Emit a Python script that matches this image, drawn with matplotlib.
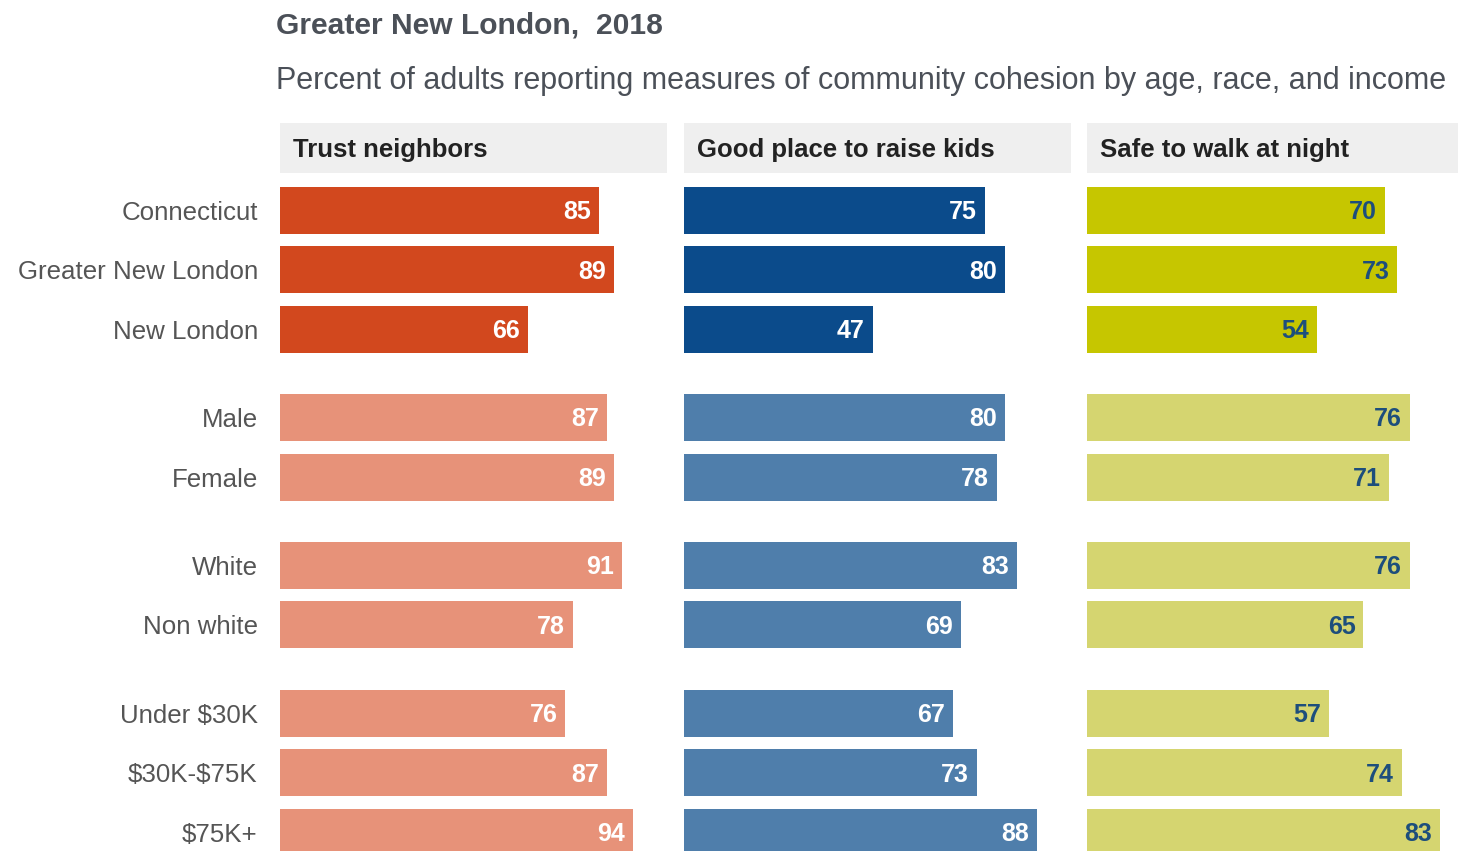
import numpy as np
import matplotlib.pyplot as plt
from matplotlib.patches import Rectangle

plt.rcParams['font.family'] = ['Liberation Sans', 'DejaVu Sans']
plt.rcParams['text.parse_math'] = False

# survey results, percent of adults
categories = ["Connecticut", "Greater New London", "New London",
              "Male", "Female",
              "White", "Non white",
              "Under $30K", "$30K-$75K", "$75K+"]
groups = [0, 0, 0, 1, 1, 2, 2, 3, 3, 3]
measures = ["Trust neighbors", "Good place to raise kids", "Safe to walk at night"]
trust = [85, 89, 66, 87, 89, 91, 78, 76, 87, 94]
kids = [75, 80, 47, 80, 78, 83, 69, 67, 73, 88]
safe = [70, 73, 54, 76, 71, 76, 65, 57, 74, 83]

series = [trust, kids, safe]
dark = ["#d2481e", "#0b4b8b", "#c6c600"]
light = ["#e79279", "#4f7eab", "#d5d570"]
label_col = ["white", "white", "#1d4e7c"]

W, H = 1458, 851
fig = plt.figure(figsize=(W / 100, H / 100), dpi=100)

# row positions: one unit per row, extra gap between groups
gap = 0.48
ypos = np.arange(len(categories)) + gap * np.array(groups)
unit = 59.6            # pixels per row unit
row0 = 210             # pixel centre of first row
top_px = 123
y_top = -(row0 - top_px) / unit
y_bot = (H - row0) / unit
head_bot = -(row0 - 173) / unit

lefts = [280, 684, 1087]
pw = 387
fill = 353

fig.text(276 / W, 1 - 25 / H, "Greater New London,  2018", fontsize=21.6,
         fontweight='bold', color="#4b5058", va='center', ha='left')
fig.text(276 / W, 1 - 81 / H,
         "Percent of adults reporting measures of community cohesion by age, race, and income",
         fontsize=22, color="#4b5058", va='center', ha='left')

for k in range(3):
    vals = np.array(series[k])
    ax = fig.add_axes([lefts[k] / W, 0, pw / W, (H - top_px) / H])
    xmax = vals.max() * pw / fill
    ax.set_xlim(0, xmax)
    ax.set_ylim(y_bot, y_top)
    cols = [dark[k] if g == 0 else light[k] for g in groups]
    ax.barh(ypos, vals, height=47 / unit, color=cols)
    for y, v in zip(ypos, vals):
        ax.annotate(str(v), (v, y), xytext=(-8, -2), textcoords='offset pixels',
                    ha='right', va='center', fontsize=18, fontweight='bold',
                    color=label_col[k])
    ax.add_patch(Rectangle((0, y_top), xmax, head_bot - y_top,
                           facecolor="#efefef", edgecolor='none', clip_on=False))
    ax.annotate(measures[k], (0, (y_top + head_bot) / 2), xytext=(13, -2),
                textcoords='offset pixels', ha='left', va='center',
                fontsize=18.5, fontweight='bold', color="#222222")
    for s in ax.spines.values():
        s.set_visible(False)
    ax.set_xticks([])
    if k == 0:
        ax.set_yticks(ypos)
        ax.set_yticklabels(categories, fontsize=18.6, color="#555555")
        ax.tick_params(axis='y', length=0, pad=16)
    else:
        ax.set_yticks([])

fig.savefig("out.png", dpi=100)
